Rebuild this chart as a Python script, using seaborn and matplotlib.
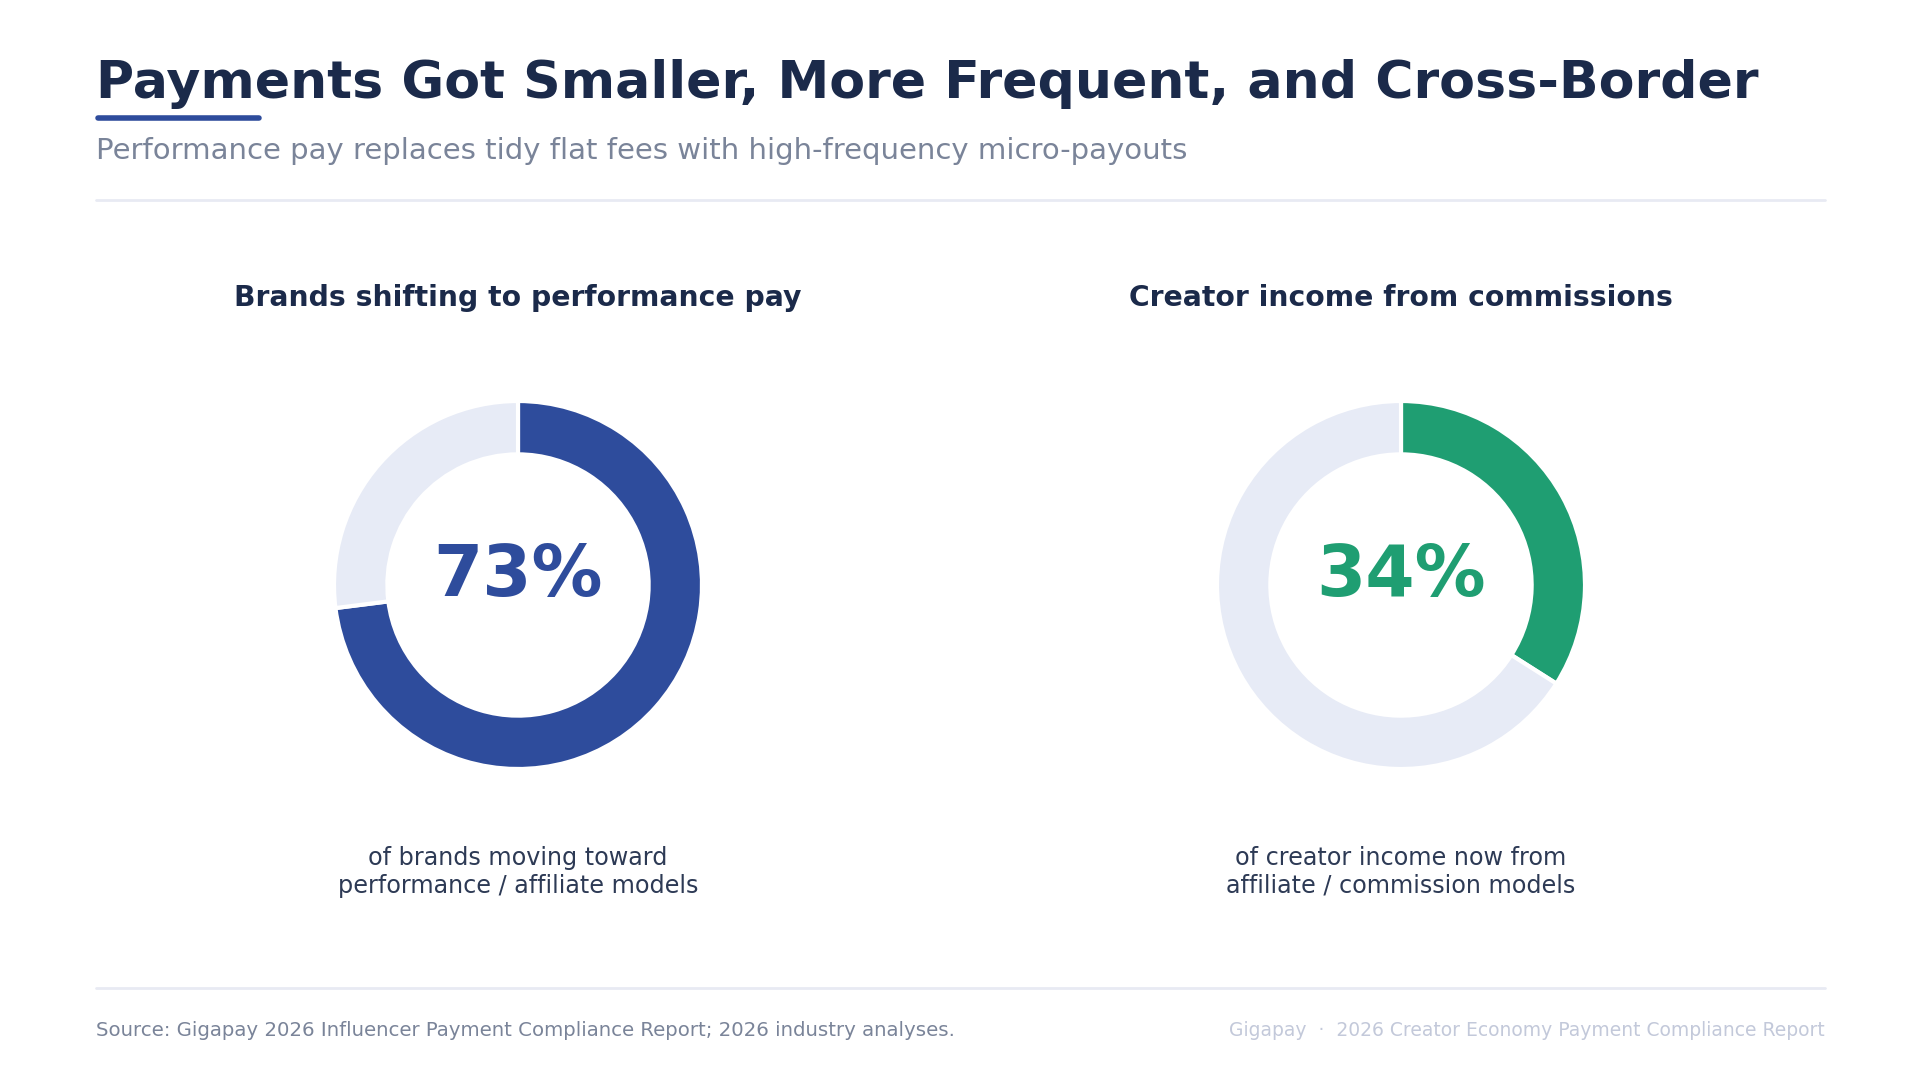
import matplotlib.pyplot as plt
import seaborn as sns

sns.set_theme(style="white")
plt.rcParams['font.family'] = ['DejaVu Sans']

# data
panel_titles = ["Brands shifting to performance pay", "Creator income from commissions"]
shares = [73, 34]
captions = ["of brands moving toward\nperformance / affiliate models",
            "of creator income now from\naffiliate / commission models"]
accent_colors = ["#2e4c9c", "#1f9e72"]
track_color = "#e7ebf6"

title = "Payments Got Smaller, More Frequent, and Cross-Border"
subtitle = "Performance pay replaces tidy flat fees with high-frequency micro-payouts"
source = "Source: Gigapay 2026 Influencer Payment Compliance Report; 2026 industry analyses."
brand = "Gigapay  \u00b7  2026 Creator Economy Payment Compliance Report"

W, H = 1920, 1080
fig = plt.figure(figsize=(19.2, 10.8), dpi=100)
fig.patch.set_facecolor("white")


def fx(px):
    return px / W


def fy(py):
    return 1 - py / H


# header
fig.text(fx(96), fy(84), title, fontsize=37.5, fontweight="bold", color="#1b2a4a",
         ha="left", va="center")
fig.add_artist(plt.Line2D([fx(98), fx(259)], [fy(117.5), fy(117.5)], color="#2e4c9c",
                          lw=4, solid_capstyle="round"))
fig.text(fx(96), fy(151), subtitle, fontsize=21, color="#7a8499", ha="left", va="center")
fig.add_artist(plt.Line2D([fx(96), fx(1825)], [fy(200), fy(200)], color="#e8eaf3", lw=2))

# donuts
centers = [518, 1401]
outer_r = 184
half = 210
for cx, ttl, val, cap, col in zip(centers, panel_titles, shares, captions, accent_colors):
    fig.text(fx(cx), fy(298), ttl, fontsize=20.3, fontweight="bold", color="#1b2a4a",
             ha="center", va="center")
    ax = fig.add_axes([fx(cx - half), fy(585 + half), 2 * half / W, 2 * half / H])
    ax.pie([val, 100 - val], colors=[col, track_color], startangle=90, counterclock=False,
           radius=1, wedgeprops=dict(width=0.29, edgecolor="white", linewidth=3))
    lim = half / outer_r
    ax.set_xlim(-lim, lim)
    ax.set_ylim(-lim, lim)
    ax.set_aspect("equal")
    ax.axis("off")
    ax.text(0, 0.045, f"{val}%", fontsize=51, fontweight="bold", color=col,
            ha="center", va="center")
    fig.text(fx(cx), fy(872), cap, fontsize=17.2, color="#2d3a55", ha="center", va="center",
             linespacing=1.2)

# footer
fig.add_artist(plt.Line2D([fx(96), fx(1825)], [fy(988), fy(988)], color="#e8eaf3", lw=2))
fig.text(fx(96), fy(1031), source, fontsize=14.2, color="#7a8499", ha="left", va="center")
fig.text(fx(1825), fy(1031), brand, fontsize=13.5, color="#c3c9da", ha="right", va="center")

fig.savefig("out.png", dpi=100, facecolor="white")
